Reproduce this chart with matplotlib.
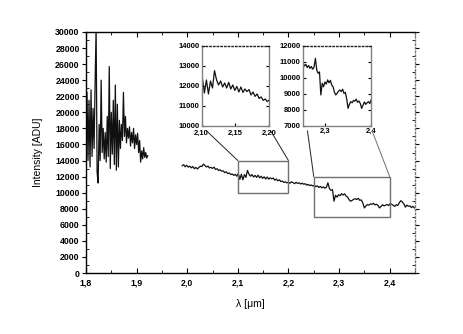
import numpy as np
import matplotlib
matplotlib.use("Agg")
import matplotlib.pyplot as plt
from matplotlib.ticker import FuncFormatter, MultipleLocator
from matplotlib.patches import Rectangle, ConnectionPatch

plt.rcParams['font.family'] = ['Liberation Sans', 'DejaVu Sans']
plt.rcParams['font.weight'] = 'bold'

# short-wavelength part (H band edge), 1.800 .. 1.922 um
left_start, left_stop = 1.800, 1.922
left_flux = [15000, 22500, 14000, 21500, 13200, 22800, 14500, 20500, 15500, 23500,
             30500, 12500, 11200, 18500, 14000, 24000, 15000, 18000, 14200, 17500,
             13800, 19500, 14500, 25700, 13000, 20000, 14800, 21500, 13500, 23400,
             12800, 21000, 13200, 19000, 15500, 18500, 16500, 22500, 17000, 19500,
             16200, 18000, 16800, 18200, 15800, 17500, 16200, 18000, 15500, 17200,
             16000, 17400, 15000, 16500, 13800, 15200, 14200, 15600, 14400, 15000,
             14300, 14600]

# K band part, 1.990 .. 2.449 um
right_start, right_stop = 1.990, 2.449
right_flux = [13350, 13480, 13220, 13410, 13180, 13300, 13090, 13260, 12980, 13150,
              12950, 13120, 13300, 13260, 13550, 13380, 13200, 13310, 13080, 13150,
              13020, 13180, 12900, 12980, 12760, 12850, 12680, 12720, 12500, 12600,
              12380, 12450, 12260, 12330, 12150, 12280, 12050, 12380, 11650, 12300,
              11600, 12250, 11900, 12770, 12300, 12050, 12250, 11950, 12150, 11900,
              12180, 11850, 12050, 11780, 11980, 11700, 11950, 11680, 11850, 11720,
              11820, 11550, 11700, 11480, 11600, 11380, 11450, 11280, 11350, 11220,
              11300, 11180, 11350, 11250, 11120, 11280, 11150, 11230, 11080, 11180,
              11050, 11120, 10950, 11030, 10880, 10960, 10820, 10920, 10750, 10850,
              10650, 10780, 10600, 10720, 10550, 10680, 11230, 10500, 10290, 10380,
              8940, 9670, 9450, 9750, 9620, 9880, 9700, 9850, 9560, 9450,
              9100, 8940, 9050, 9180, 9250, 9150, 9300, 9040, 9100, 8700,
              8100, 8350, 8520, 8450, 8600, 8550, 8680, 8480, 8560, 8400,
              8100, 8300, 8500, 8350, 8450, 8520, 8400, 8650, 8550, 8420,
              8300, 8500, 8400, 8750, 9000, 8850, 8600, 8200, 8450, 8300,
              8350, 8150, 8300, 8100]

left_wl = np.linspace(left_start, left_stop, len(left_flux))
right_wl = np.linspace(right_start, right_stop, len(right_flux))

# zoom windows: (x0, x1, y0, y1)
zoom1 = (2.10, 2.20, 10000, 14000)
zoom2 = (2.25, 2.40, 7000, 12000)

comma1 = FuncFormatter(lambda v, p: f"{v:.1f}".replace('.', ','))
comma2 = FuncFormatter(lambda v, p: f"{v:.2f}".replace('.', ','))

fig = plt.figure(figsize=(4.63, 3.34), dpi=100)
ax = fig.add_axes([0.1857, 0.1826, 0.7106, 0.7216])

line_col = '#111111'
ax.plot(left_wl, left_flux, color=line_col, lw=0.9)
ax.plot(right_wl, right_flux, color=line_col, lw=0.9)

ax.set_xlim(1.8, 2.45)
ax.set_ylim(0, 30000)
ax.xaxis.set_major_locator(MultipleLocator(0.1))
ax.xaxis.set_minor_locator(MultipleLocator(0.05))
ax.yaxis.set_major_locator(MultipleLocator(2000))
ax.yaxis.set_minor_locator(MultipleLocator(1000))
ax.xaxis.set_major_formatter(comma1)
ax.tick_params(which='both', top=True, right=True, direction='in', labelsize=6.3)
ax.tick_params(axis='y', which='major', direction='out', length=3, pad=1.5)
ax.tick_params(axis='x', which='major', pad=4)
ax.tick_params(which='minor', length=2)
ax.spines['right'].set_color('#777777')
ax.spines['right'].set_linestyle(':')
for s in ax.spines.values():
    s.set_linewidth(1.0)

ax.set_xlabel('λ [μm]', fontsize=7.5, labelpad=8)
ax.set_ylabel('Intensity [ADU]', fontsize=7.5, labelpad=9)

# rectangles marking zoomed regions
for z in (zoom1, zoom2):
    ax.add_patch(Rectangle((z[0], z[2]), z[1] - z[0], z[3] - z[2],
                           fill=False, edgecolor='#707070', lw=1.0, zorder=3))

inset_pos = [[0.4356, 0.6228, 0.146, 0.2395], [0.6538, 0.6228, 0.1469, 0.2395]]
insets = []
for pos, z in zip(inset_pos, (zoom1, zoom2)):
    ins = fig.add_axes(pos)
    ins.plot(right_wl, right_flux, color=line_col, lw=0.9)
    ins.set_xlim(z[0], z[1])
    ins.set_ylim(z[2], z[3])
    ins.yaxis.set_major_locator(MultipleLocator(1000))
    ins.tick_params(which='both', right=True, direction='in', labelsize=5.5,
                    length=2, pad=1.5)
    for s in ins.spines.values():
        s.set_color('#808080')
        s.set_linewidth(1.0)
    ins.spines['top'].set_linestyle(':')
    ins.spines['top'].set_color('#222222')
    insets.append(ins)

insets[0].xaxis.set_major_locator(MultipleLocator(0.05))
insets[0].xaxis.set_major_formatter(comma2)
insets[0].tick_params(axis='x', pad=2.5)
insets[1].set_xticks([2.3, 2.4])
insets[1].xaxis.set_major_formatter(comma1)

# connector lines from inset bottom corners to rectangle tops
conn_cols = [('#222222', '#222222'), ('#222222', '#707070')]
for ins, z, cols in zip(insets, (zoom1, zoom2), conn_cols):
    for xa, xd, c in ((0.07, z[0], cols[0]), (1.02, z[1], cols[1])):
        cp = ConnectionPatch(xyA=(xa, -0.06), coordsA=ins.transAxes,
                             xyB=(xd, z[3]), coordsB=ax.transData,
                             color=c, lw=0.7)
        fig.add_artist(cp)

fig.savefig('out.png', dpi=100)
